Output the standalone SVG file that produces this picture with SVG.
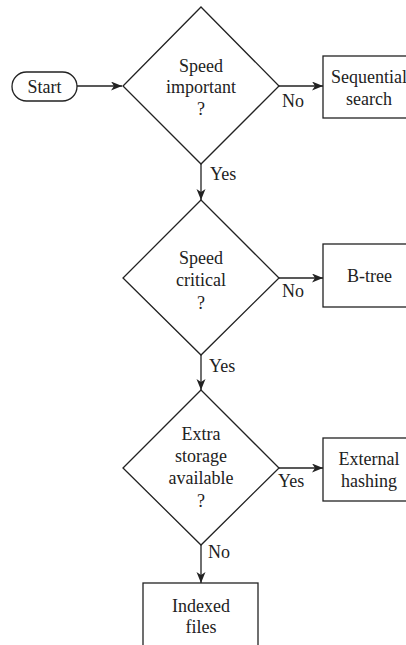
<svg xmlns="http://www.w3.org/2000/svg" width="406" height="645" viewBox="0 0 406 645">
<style>
.s{fill:#fff;stroke:#222;stroke-width:1.3}
text{font-family:'Liberation Serif',Tinos,'Times New Roman',Times,'Noto Serif','DejaVu Serif',serif;font-size:18px;fill:#222}
.t{text-anchor:middle}
.c{stroke:#222;stroke-width:1.3;fill:none}
</style>
<defs>
<marker id="ah" markerUnits="userSpaceOnUse" markerWidth="12" markerHeight="10" refX="11" refY="4.5" orient="auto">
<path d="M0,0 L11,4.5 L0,9 L3,4.5 z" fill="#222"/>
</marker>
</defs>
<rect width="406" height="645" fill="#fff"/>
<g id="connectors">
<line class="c" x1="77" y1="86" x2="122" y2="86" marker-end="url(#ah)"/>
<line class="c" x1="279" y1="86" x2="323" y2="86" marker-end="url(#ah)"/>
<line class="c" x1="201" y1="164" x2="201" y2="200" marker-end="url(#ah)"/>
<line class="c" x1="279" y1="278" x2="323" y2="278" marker-end="url(#ah)"/>
<line class="c" x1="201" y1="355" x2="201" y2="390" marker-end="url(#ah)"/>
<line class="c" x1="279" y1="468" x2="323" y2="468" marker-end="url(#ah)"/>
<line class="c" x1="201" y1="545" x2="201" y2="583" marker-end="url(#ah)"/>
<text x="282" y="107">No</text>
<text x="210" y="180">Yes</text>
<text x="282" y="297">No</text>
<text x="209" y="372">Yes</text>
<text x="278" y="487">Yes</text>
<text x="208" y="558">No</text>
</g>
<g id="start">
<rect class="s" x="12" y="72" width="65" height="29" rx="14.5"/>
<text class="t" x="44.5" y="93">Start</text>
</g>
<g id="d1">
<polygon class="s" points="201,7 279,86 201,164 123,86"/>
<text class="t" x="201" y="72">Speed</text>
<text class="t" x="201" y="93">important</text>
<text class="t" x="201" y="115">?</text>
</g>
<g id="seq">
<rect class="s" x="323" y="56" width="92" height="62"/>
<text class="t" x="369" y="83">Sequential</text>
<text class="t" x="369" y="105">search</text>
</g>
<g id="d2">
<polygon class="s" points="201,200 279,278 201,355 123,278"/>
<text class="t" x="201" y="264">Speed</text>
<text class="t" x="201" y="286">critical</text>
<text class="t" x="201" y="309">?</text>
</g>
<g id="btree">
<rect class="s" x="323" y="244" width="92" height="63"/>
<text class="t" x="369.5" y="282">B-tree</text>
</g>
<g id="d3">
<polygon class="s" points="201,390 279,468 201,545 123,468"/>
<text class="t" x="201" y="440">Extra</text>
<text class="t" x="201" y="462">storage</text>
<text class="t" x="201" y="484">available</text>
<text class="t" x="201" y="507">?</text>
</g>
<g id="ext">
<rect class="s" x="323" y="438" width="92" height="63"/>
<text class="t" x="369" y="465">External</text>
<text class="t" x="369" y="487">hashing</text>
</g>
<g id="indexed">
<rect class="s" x="143" y="583" width="115" height="70"/>
<text class="t" x="201" y="612">Indexed</text>
<text class="t" x="201" y="633">files</text>
</g>
</svg>
